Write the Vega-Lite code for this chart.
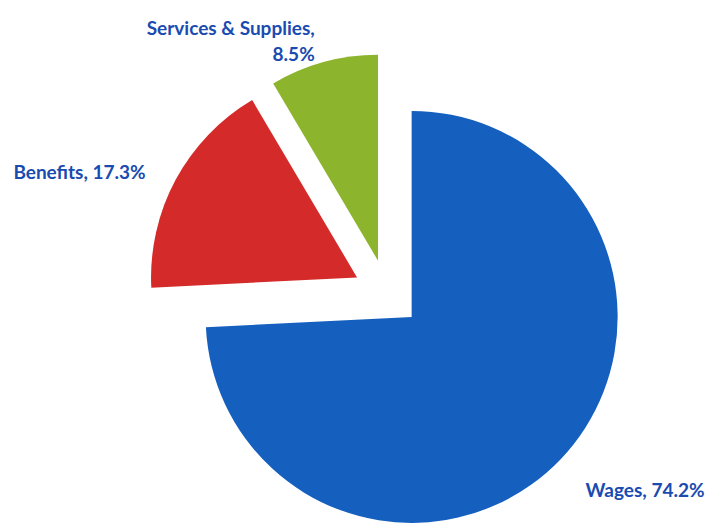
{
  "$schema": "https://vega.github.io/schema/vega-lite/v6.json",
  "width": 642,
  "height": 459,
  "autosize": {"type": "none"},
  "padding": {"left": 66, "top": 64, "right": 0, "bottom": 0},
  "background": "white",
  "config": {"view": {"stroke": null}},
  "data": {
    "values": [
      {"category": "Wages", "share": 74.2, "slice": 1, "label": "Wages, 74.2%"},
      {"category": "Benefits", "share": 17.3, "slice": 2, "label": "Benefits, 17.3%"},
      {"category": "Services & Supplies", "share": 8.5, "slice": 3, "label": "Services & Supplies,\n8.5%"}
    ]
  },
  "encoding": {
    "theta": {"field": "share", "type": "quantitative", "stack": true},
    "order": {"field": "slice", "type": "quantitative"}
  },
  "layer": [
    {
      "mark": {
        "type": "arc",
        "radius": 206,
        "x": {"expr": "width/2 + 34*sin(scale('theta', (datum.share_start + datum.share_end)/2))"},
        "y": {"expr": "height/2 - 34*cos(scale('theta', (datum.share_start + datum.share_end)/2))"}
      },
      "encoding": {
        "color": {
          "field": "category",
          "type": "nominal",
          "scale": {
            "domain": ["Wages", "Benefits", "Services & Supplies"],
            "range": ["#1560BE", "#D42A2A", "#8CB42C"]
          },
          "legend": null
        }
      }
    },
    {
      "mark": {
        "type": "text",
        "radius": 240,
        "x": {"expr": "width/2 + 34*sin(scale('theta', (datum.share_start + datum.share_end)/2))"},
        "y": {"expr": "height/2 - 34*cos(scale('theta', (datum.share_start + datum.share_end)/2))"},
        "align": {"expr": "sin(scale('theta', (datum.share_start + datum.share_end)/2)) > 0.1 ? 'left' : (sin(scale('theta', (datum.share_start + datum.share_end)/2)) < -0.1 ? 'right' : 'center')"},
        "baseline": {"expr": "cos(scale('theta', (datum.share_start + datum.share_end)/2)) > 0.8 ? 'middle' : 'top'"},
        "lineBreak": "\n",
        "lineHeight": 26,
        "font": "Lato",
        "fontSize": 19,
        "fontWeight": "bold",
        "color": "#1A4BB0"
      },
      "encoding": {
        "text": {"field": "label", "type": "nominal"}
      }
    }
  ]
}
